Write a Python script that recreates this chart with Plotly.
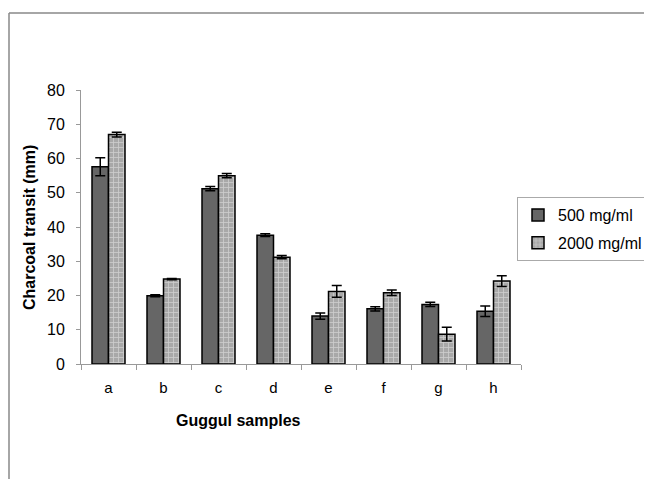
import plotly.graph_objects as go

categories = ["a", "b", "c", "d", "e", "f", "g", "h"]
low_dose = [57.6, 19.9, 51.2, 37.6, 14.0, 16.1, 17.4, 15.4]
low_err = [2.6, 0.3, 0.6, 0.4, 0.9, 0.6, 0.6, 1.5]
high_dose = [67.0, 24.8, 55.0, 31.2, 21.2, 20.8, 8.7, 24.2]
high_err = [0.7, 0.2, 0.6, 0.5, 1.7, 0.8, 2.0, 1.6]
series_names = ["500 mg/ml", "2000 mg/ml"]

FONT = "Liberation Sans, Arial, sans-serif"

# page body adds an 8px offset, so the figure is drawn 8px smaller
W, H = 644, 471
L, T = 73, 82          # -> screen 81, 90
PW, PH = 440, 274      # plot area size
R = W - L - PW
B = H - T - PH

def px(xs):
    return (xs - 8 - L) / PW

def py(ys):
    return (T + PH - (ys - 8)) / PH

fig = go.Figure()
fig.add_trace(go.Bar(
    x=categories, y=low_dose, name=series_names[0], legendgroup="g1",
    marker=dict(color="#666666", line=dict(color="#000000", width=1.5)),
    error_y=dict(type="data", array=low_err, color="#000000", thickness=1.5, width=5),
))
fig.add_trace(go.Bar(
    x=categories, y=high_dose, name=series_names[1], legendgroup="g2",
    marker=dict(color="#c4c4c4", line=dict(color="#000000", width=1.5),
                pattern=dict(shape="+", fgcolor="#f2f2f2", bgcolor="#a8a8a8",
                             size=5, solidity=0.3)),
    error_y=dict(type="data", array=high_err, color="#000000", thickness=1.5, width=5),
))

fig.update_layout(
    width=W, height=H,
    margin=dict(l=L, r=R, t=T, b=B, autoexpand=False),
    paper_bgcolor="white", plot_bgcolor="white",
    barmode="group", bargap=0.4, bargroupgap=0,
    font=dict(family=FONT, size=15, color="#000000"),
    showlegend=True,
    legend=dict(x=px(517), y=py(197), xanchor="left", yanchor="top",
                bordercolor="#aaaaaa", borderwidth=1,
                font=dict(family=FONT, size=16),
                traceorder="grouped", tracegroupgap=4,
                itemwidth=30),
    xaxis=dict(showline=True, linecolor="#999999", linewidth=1,
               ticks="outside", ticklen=5, tickcolor="#999999",
               tickson="boundaries", showgrid=False,
               tickfont=dict(family=FONT, size=15), ticklabelstandoff=10),
    yaxis=dict(range=[0, 80], dtick=10, showline=True, linecolor="#999999",
               linewidth=1, ticks="outside", ticklen=4, tickcolor="#999999",
               showgrid=False, zeroline=False,
               tickfont=dict(family=FONT, size=16), ticklabelstandoff=8),
    annotations=[
        dict(text="<b>Charcoal transit (mm)</b>", textangle=-90,
             x=px(30), y=py(228), xref="paper", yref="paper",
             xanchor="center", yanchor="middle",
             showarrow=False, font=dict(family=FONT, size=16)),
        dict(text="<b>Guggul samples</b>",
             x=px(238), y=py(420), xref="paper", yref="paper",
             xanchor="center", yanchor="middle",
             showarrow=False, font=dict(family=FONT, size=16)),
    ],
    shapes=[
        dict(type="line", xref="paper", yref="paper",
             x0=px(9), y0=py(13), x1=px(652), y1=py(13),
             line=dict(color="#888888", width=1.5)),
        dict(type="line", xref="paper", yref="paper",
             x0=px(9), y0=py(13), x1=px(9), y1=py(479),
             line=dict(color="#888888", width=1.5)),
    ],
)

fig.write_html("out.html")
